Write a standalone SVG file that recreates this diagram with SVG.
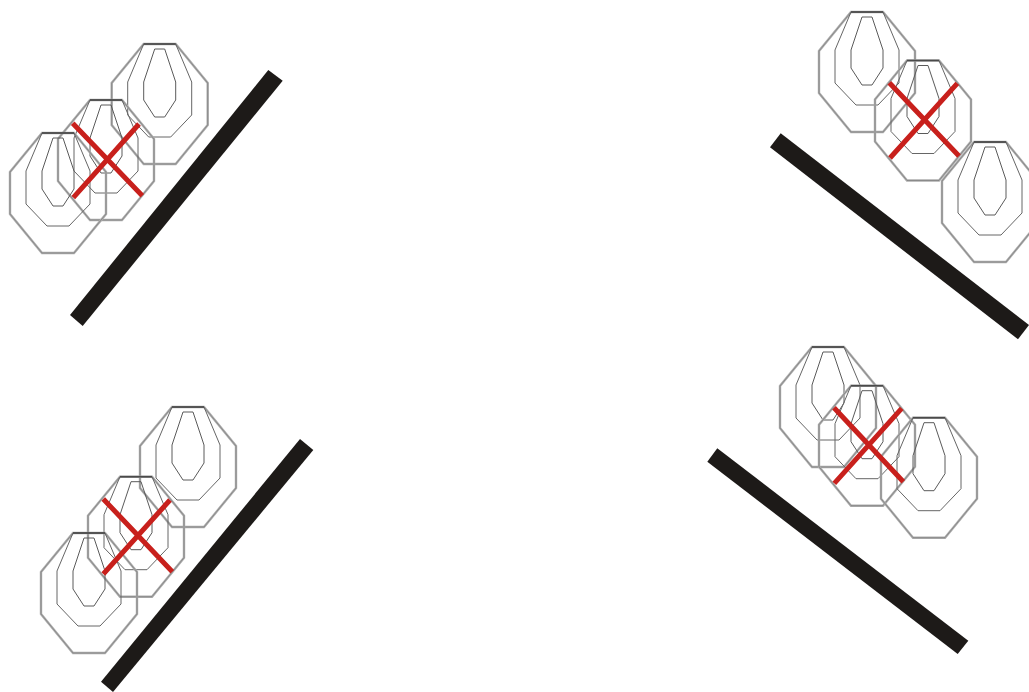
<svg xmlns="http://www.w3.org/2000/svg" width="1029" height="692" viewBox="0 0 1029 692">
<style>
.o{fill:none;stroke:#adadad;stroke-width:2.4}
.oi{fill:none;stroke:#666;stroke-width:.5}
.m{fill:none;stroke:#666;stroke-width:1}
.n{fill:none;stroke:#5a5a5a;stroke-width:1}
.t{fill:none;stroke:#4a4a4a;stroke-width:1.6}
.bar{fill:#1d1a18}
.x{stroke:#c8201c;stroke-width:5;fill:none}
</style>
<defs>
<g id="target">
<polygon class="o" points="-16,0 16,0 48,39 48,81 16,120 -16,120 -48,81 -48,39"/>
<polygon class="oi" points="-16,0 16,0 48,39 48,81 16,120 -16,120 -48,81 -48,39"/>
<polygon class="m" points="-16,0 16,0 32,38 32,71 11,93 -11,93 -32,71 -32,38"/>
<polygon class="n" points="-5,5 5,5 16,38 16,56 5,73 -5,73 -16,56 -16,38"/>
<line class="t" x1="-16" y1="0" x2="16" y2="0"/>
</g>
</defs>
<rect width="1029" height="692" fill="#fff"/>
<g id="top-left">
<use href="#target" x="159.7" y="44"/>
<use href="#target" x="106" y="100"/>
<use href="#target" x="58" y="133"/>
<path class="x" d="M72.7 123.3L142.3 195.7M139 124L73.3 197.7"/>
<polygon class="bar" points="268.3,70 282.7,80.7 82.7,326 70,315"/>
</g>
<g id="top-right">
<use href="#target" x="867" y="12"/>
<use href="#target" x="923" y="60.5"/>
<use href="#target" x="990" y="142"/>
<path class="x" d="M889.3 82.7L959 156M957.3 83.3L890 158"/>
<polygon class="bar" points="780.7,133.3 770,147.3 1018,339.3 1029,325"/>
</g>
<g id="bottom-left">
<use href="#target" x="188" y="407"/>
<use href="#target" x="136" y="476.7"/>
<use href="#target" x="89" y="533"/>
<path class="x" d="M103.3 499L172.3 571.7M170 500L103.3 574"/>
<polygon class="bar" points="300,439 313.3,450 113,692 101,681.7"/>
</g>
<g id="bottom-right">
<use href="#target" x="828" y="347"/>
<use href="#target" x="867" y="385.7"/>
<use href="#target" x="929" y="417.7"/>
<path class="x" d="M834 407.7L903.3 481.7M901.7 408.3L834.3 483.3"/>
<polygon class="bar" points="717.3,448.3 707.3,461.7 957.7,654 968.3,640.7"/>
</g>
</svg>
